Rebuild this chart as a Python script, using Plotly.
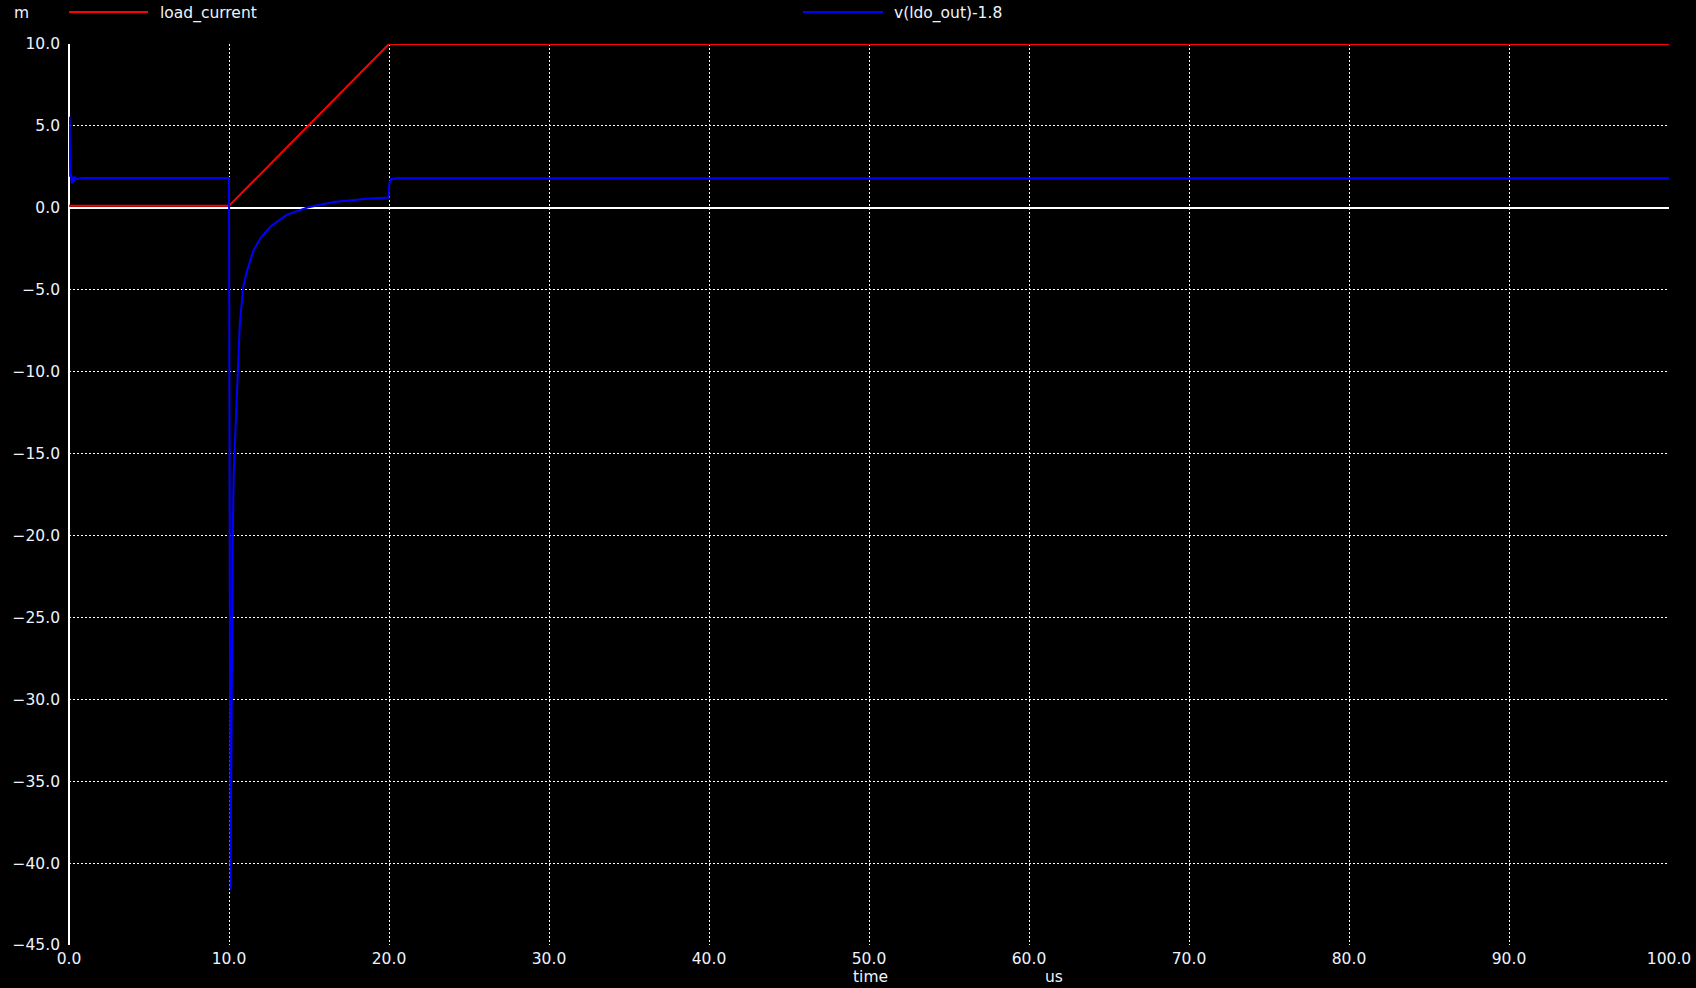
import plotly.graph_objects as go

# ---- data (time in us, values in m-units) ----
t_load = [0.0, 10.0, 20.0, 100.0]
load_current = [0.12, 0.12, 10.0, 10.0]

t_vout = [0.0, 0.04, 0.07, 0.12, 0.18, 0.24, 0.3, 0.38, 0.5, 0.7, 1.0, 10.0,
          10.09, 10.18, 10.24, 10.3, 10.4, 10.55, 10.68, 10.9, 11.14, 11.55,
          11.97, 12.6, 13.6, 14.9, 16.55, 18.6, 19.98, 20.02, 20.1, 20.5, 100.0]
v_ldo_out = [5.5, 5.5, 1.9, 2.1, 1.5, 1.9, 1.6, 1.85, 1.75, 1.8, 1.82, 1.82,
             -41.6, -23.1, -19.7, -16.0, -13.3, -9.4, -7.0, -4.8, -3.8, -2.56,
             -1.85, -1.14, -0.43, 0.02, 0.35, 0.55, 0.63, 1.47, 1.75, 1.8, 1.8]

x_ticks = [0, 10, 20, 30, 40, 50, 60, 70, 80, 90, 100]
y_ticks = [10, 5, 0, -5, -10, -15, -20, -25, -30, -35, -40, -45]

series_names = ["load_current", "v(ldo_out)-1.8"]
series_colors = ["#ff0000", "#0000ff"]

FONT = "DejaVu Sans"
TXT = "#eef3ff"
W, H = 1696, 988
L, R, T, B = 69, 27, 44, 43

fig = go.Figure()
fig.add_trace(go.Scatter(x=t_load, y=load_current, mode="lines",
                         line=dict(color=series_colors[0], width=2),
                         name=series_names[0], showlegend=False))
fig.add_trace(go.Scatter(x=t_vout, y=v_ldo_out, mode="lines",
                         line=dict(color=series_colors[1], width=2),
                         name=series_names[1], showlegend=False))

axis_common = dict(showgrid=True, gridcolor="white", gridwidth=1, griddash="2px,2px",
                   zeroline=True, zerolinecolor="white", zerolinewidth=2,
                   showline=False, ticks="", tickformat=".1f", automargin=False,
                   tickfont=dict(family=FONT, size=15.5, color=TXT))
fig.update_xaxes(range=[0, 100], tickvals=x_ticks, ticklabelstandoff=2, **axis_common)
fig.update_yaxes(range=[-45, 10], tickvals=y_ticks, ticklabelstandoff=8, **axis_common)

pw = W - L - R
ph = H - T - B

def px(x):
    return (x - L) / pw

def py(y):
    return 1 - (y - T) / ph

annotations = [
    dict(text="m", x=px(12), y=py(13), xanchor="left", yanchor="middle"),
    dict(text=series_names[0], x=px(158), y=py(13), xanchor="left", yanchor="middle"),
    dict(text=series_names[1], x=px(892), y=py(13), xanchor="left", yanchor="middle"),
    dict(text="time", x=px(870), y=py(977), xanchor="center", yanchor="middle"),
    dict(text="us", x=px(1054), y=py(977), xanchor="center", yanchor="middle"),
]
for a in annotations:
    a.update(xref="paper", yref="paper", showarrow=False,
             font=dict(family=FONT, size=15.5, color=TXT))

shapes = [
    dict(type="line", xref="paper", yref="paper", x0=px(69), x1=px(148),
         y0=py(12), y1=py(12), line=dict(color=series_colors[0], width=2)),
    dict(type="line", xref="paper", yref="paper", x0=px(803), x1=px(883),
         y0=py(12), y1=py(12), line=dict(color=series_colors[1], width=2)),
]

fig.update_layout(width=W, height=H, margin=dict(l=L, r=R, t=T, b=B, autoexpand=False),
                  paper_bgcolor="black", plot_bgcolor="black",
                  annotations=annotations, shapes=shapes, showlegend=False,
                  font=dict(family=FONT, color=TXT))

fig.write_html("out.html",
               config={"displayModeBar": False},
               post_script="document.body.style.margin='0px';"
                           "document.body.style.background='black';"
                           "document.body.style.overflow='hidden';")
